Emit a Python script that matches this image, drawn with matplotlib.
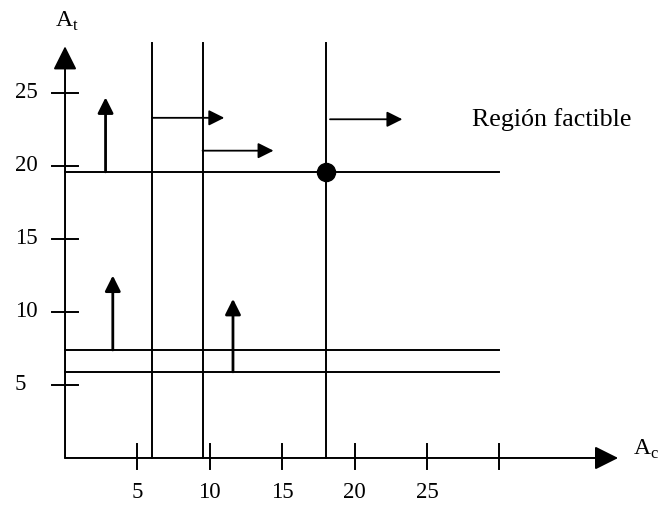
import matplotlib
matplotlib.use("Agg")
import matplotlib.pyplot as plt

plt.rcParams['font.family'] = ['Liberation Serif', 'DejaVu Serif']
plt.rcParams['mathtext.fontset'] = 'custom'
plt.rcParams['mathtext.rm'] = 'Liberation Serif'

# constraint lines
v_lines = [6, 9.5, 18]          # vertical lines (Ac = const)
v_top = 28.4
h_lines = [19.6, 7.4, 5.9]      # horizontal lines (At = const)
h_end = 30

# direction arrows: (x, y_start, y_end) and (y, x_start, x_end)
up_arrows = [(2.8, 19.6, 24.7), (3.3, 7.4, 12.5), (11.6, 5.9, 10.9)]
right_arrows = [(23.3, 6, 11.0), (21.05, 9.5, 14.4), (23.2, 18.3, 23.3)]

optimum = (18, 19.6)

x_ticks = [5, 10, 15, 20, 25, 30]
x_tick_labels = ['5', '10', '15', '20', '25', '']
y_ticks = [5, 10, 15, 20, 25]
y_tick_labels = ['5', '10', '15', '20', '25']

fig = plt.figure(figsize=(6.6, 5.05), dpi=100)
ax = fig.add_axes([0, 0, 1, 1])
ax.set_xlim(-4.49, 41.09)
ax.set_ylim(-3.22, 31.37)
ax.axis('off')

lw = 1.4
big_head = dict(arrowstyle='-|>,head_length=1.44,head_width=0.72', mutation_scale=10,
                color='black', lw=lw, shrinkA=0, shrinkB=0)
# axes with arrow heads
ax.annotate('', xy=(38.2, 0), xytext=(0, 0), arrowprops=big_head)
ax.annotate('', xy=(0, 28.2), xytext=(0, 0), arrowprops=big_head)

for x in x_ticks:
    ax.plot([x, x], [-0.75, 0.95], color='black', lw=lw)
for x, lab in zip(x_ticks, x_tick_labels):
    ax.text(x, -2.35, lab, ha='center', va='center', fontsize=16.5)
for y in y_ticks:
    ax.plot([-0.9, 0.9], [y, y], color='black', lw=lw)
for y, lab in zip(y_ticks, y_tick_labels):
    ax.text(-3.45, y, lab, ha='left', va='center', fontsize=16.5)

for x in v_lines:
    ax.plot([x, x], [0, v_top], color='black', lw=lw)
for y in h_lines:
    ax.plot([0, h_end], [y, y], color='black', lw=lw)

small_head = dict(arrowstyle='-|>,head_length=0.94,head_width=0.47', mutation_scale=10,
                  color='black', shrinkA=0, shrinkB=0)
for x, y0, y1 in up_arrows:
    ax.annotate('', xy=(x, y1), xytext=(x, y0), arrowprops=dict(small_head, lw=2.0))
for y, x0, x1 in right_arrows:
    ax.annotate('', xy=(x1, y), xytext=(x0, y), arrowprops=dict(small_head, lw=1.3))

ax.plot(*optimum, 'o', color='black', markersize=13)

ax.text(28.1, 23.2, 'Región factible', ha='left', va='center', fontsize=18.7)
ax.text(0.1, 29.9, r'$\mathrm{A}_{\mathrm{t}}$', ha='center', va='center', fontsize=17)
ax.text(39.2, 0.6, r'$\mathrm{A}_{\mathrm{c}}$', ha='left', va='center', fontsize=17)

fig.savefig('out.png', dpi=100)
